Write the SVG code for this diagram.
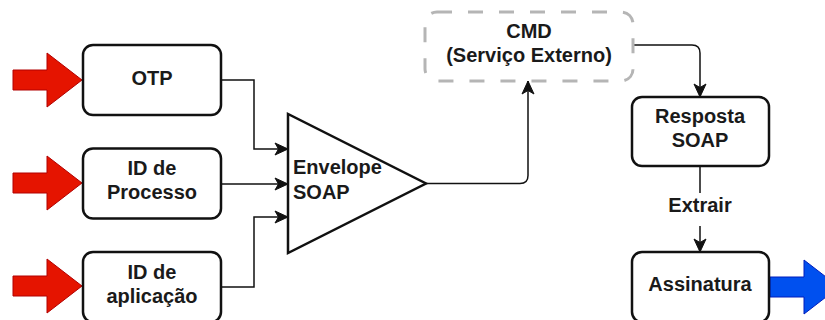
<svg xmlns="http://www.w3.org/2000/svg" width="825" height="320" viewBox="0 0 825 320">
  <style>
    .box { fill: #ffffff; stroke: #111111; stroke-width: 2.5; }
    .ext { fill: #ffffff; stroke: #b5b5b5; stroke-width: 3; stroke-dasharray: 15 16; }
    .tri { fill: #ffffff; stroke: #111111; stroke-width: 2.5; stroke-linejoin: miter; }
    .lbl { font-family: "Liberation Sans", Arial, Helvetica, sans-serif; font-size: 20px; font-weight: bold; fill: #1a1a1a; }
    .mid { text-anchor: middle; }
    .edge { fill: none; stroke: #111111; stroke-width: 1.5; marker-end: url(#head); }
    .in { fill: #e51400; stroke: #b20000; stroke-width: 1; }
    .out { fill: #0050ef; stroke: #001dbc; stroke-width: 1; }
  </style>
  <defs>
    <marker id="head" markerUnits="userSpaceOnUse" markerWidth="14" markerHeight="13" refX="13" refY="6.5" orient="auto" overflow="visible">
      <path d="M0,0.5 L13,6.5 L0,12.5 L3.5,6.5 Z" fill="#111111" stroke="#111111" stroke-width="1" stroke-linejoin="miter"/>
    </marker>
    <polygon id="bigArrow" points="0,-10 34,-10 34,-27 69,0 34,27 34,10 0,10"/>
  </defs>

  <!-- input arrows -->
  <g id="inputs">
    <use href="#bigArrow" class="in" x="13" y="80"/>
    <use href="#bigArrow" class="in" x="13" y="183"/>
    <use href="#bigArrow" class="in" x="13" y="286"/>
  </g>

  <!-- output arrow -->
  <g id="output">
    <use href="#bigArrow" class="out" x="770" y="287"/>
  </g>

  <!-- connectors -->
  <g id="connectors">
    <path class="edge" d="M221,80 H254 V149 H288"/>
    <path class="edge" d="M221,184 H288"/>
    <path class="edge" d="M221,287 H254 V217 H288"/>
    <path class="edge" d="M426,183.5 H520 Q528,183.5 528,175.5 V81"/>
    <path class="edge" d="M633,45 H692 Q700,45 700,53 V97"/>
    <path class="edge" d="M700,166 V252"/>
    <rect x="668" y="193" width="64" height="33" fill="#ffffff"/>
    <text class="lbl mid" x="700" y="212">Extrair</text>
  </g>

  <g id="otp">
    <rect class="box" x="83" y="45" width="138" height="70" rx="10"/>
    <text class="lbl mid" x="152" y="85">OTP</text>
  </g>

  <g id="processo">
    <rect class="box" x="83" y="148.5" width="138" height="70" rx="10"/>
    <text class="lbl mid" x="152" y="175">ID de</text>
    <text class="lbl mid" x="152" y="199">Processo</text>
  </g>

  <g id="aplicacao">
    <rect class="box" x="83" y="252" width="138" height="70" rx="10"/>
    <text class="lbl mid" x="152" y="278.5">ID de</text>
    <text class="lbl mid" x="152" y="302.5">aplicação</text>
  </g>

  <g id="envelope">
    <polygon class="tri" points="288,114 288,253 426,183.5"/>
    <text class="lbl" x="293" y="174">Envelope</text>
    <text class="lbl" x="293" y="199">SOAP</text>
  </g>

  <g id="cmd">
    <rect class="ext" x="425" y="12" width="208" height="69" rx="12"/>
    <text class="lbl mid" x="529" y="38">CMD</text>
    <text class="lbl mid" x="529" y="62">(Serviço Externo)</text>
  </g>

  <g id="resposta">
    <rect class="box" x="632" y="97" width="137" height="69" rx="10"/>
    <text class="lbl mid" x="700" y="123">Resposta</text>
    <text class="lbl mid" x="700" y="147">SOAP</text>
  </g>

  <g id="assinatura">
    <rect class="box" x="632" y="252" width="137" height="70" rx="10"/>
    <text class="lbl mid" x="700" y="291">Assinatura</text>
  </g>
</svg>
